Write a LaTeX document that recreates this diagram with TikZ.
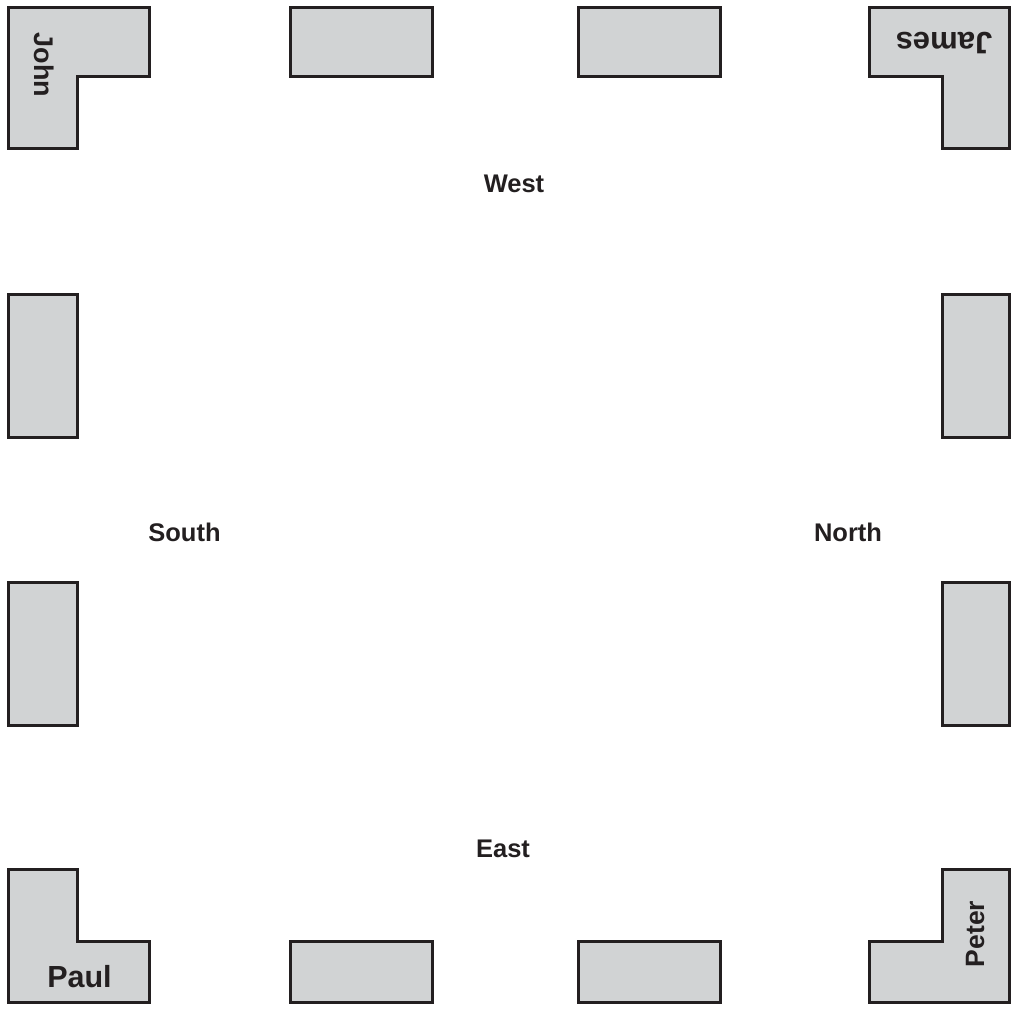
\documentclass[tikz,border=0pt]{standalone}
\usepackage{fontspec}
\setmainfont{Liberation Sans}
\definecolor{tablefill}{RGB}{209,211,212}
\definecolor{tableline}{RGB}{35,31,32}
\tikzset{
  tbl/.style={fill=tablefill, draw=tableline, line width=3pt, line join=miter},
  dir/.style={inner sep=0pt, font=\fontsize{25.5}{28}\selectfont\bfseries, text=tableline},
  who/.style={inner sep=0pt, text=tableline},
}
\begin{document}
\begin{tikzpicture}[x=1pt,y=-1pt]
\useasboundingbox (0,0) rectangle (1014,1010);
% corner L-shaped tables
\draw[tbl] (8,7) -- (149,7) -- (149,76) -- (77,76) -- (77,148) -- (8,148) -- cycle;
\draw[tbl] (869,7) -- (1009,7) -- (1009,148) -- (942,148) -- (942,76) -- (869,76) -- cycle;
\draw[tbl] (8,869) -- (77,869) -- (77,941) -- (149,941) -- (149,1002) -- (8,1002) -- cycle;
\draw[tbl] (942,869) -- (1009,869) -- (1009,1002) -- (869,1002) -- (869,941) -- (942,941) -- cycle;
% top and bottom tables
\draw[tbl] (290,7) rectangle (432,76);
\draw[tbl] (578,7) rectangle (720,76);
\draw[tbl] (290,941) rectangle (432,1002);
\draw[tbl] (578,941) rectangle (720,1002);
% side tables
\draw[tbl] (8,294) rectangle (77,437);
\draw[tbl] (8,582) rectangle (77,725);
\draw[tbl] (942,294) rectangle (1009,437);
\draw[tbl] (942,582) rectangle (1009,725);
% names
\node[who, rotate=-90, font=\fontsize{27}{30}\selectfont\bfseries] (john) at (44,65) {John};
\node[who, rotate=180, font=\fontsize{31}{34}\selectfont\bfseries] (james) at (944,43.5) {James};
\node[who, font=\fontsize{30.5}{33}\selectfont\bfseries] (paul) at (79.5,977) {Paul};
\node[who, rotate=90, font=\fontsize{26.5}{30}\selectfont\bfseries] (peter) at (975,934) {Peter};
% directions
\node[dir] (west) at (514,184) {West};
\node[dir] (south) at (184.5,532.5) {South};
\node[dir] (north) at (848,532.5) {North};
\node[dir] (east) at (503,849) {East};
\end{tikzpicture}
\end{document}
